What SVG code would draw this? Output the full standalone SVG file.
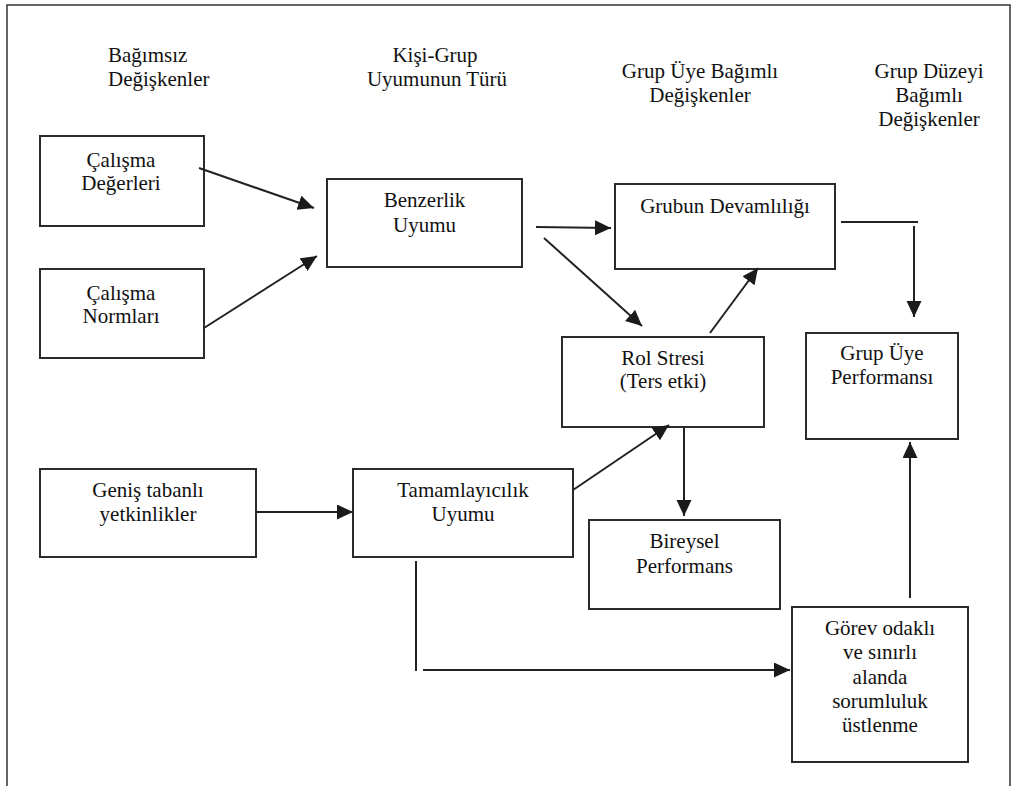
<svg xmlns="http://www.w3.org/2000/svg" width="1013" height="786" viewBox="0 0 1013 786">
<style>
.box{fill:#fff;stroke:#2b2b2b;stroke-width:2}
.t{font-family:"Liberation Serif","Times New Roman",serif;font-size:21px;fill:#111;text-anchor:middle}
.h{font-family:"Liberation Serif","Times New Roman",serif;font-size:21px;fill:#111}
.c{fill:none;stroke:#222;stroke-width:2}
</style>
<defs>
<marker id="ah" markerUnits="userSpaceOnUse" markerWidth="18" markerHeight="16" refX="16" refY="7.5" orient="auto">
<path d="M0,0 L16,7.5 L0,15 z" fill="#1a1a1a"/>
</marker>
</defs>
<rect width="1013" height="786" fill="#fff"/>
<path d="M7,786 V5 H1010 V786" fill="none" stroke="#333" stroke-width="1.5"/>

<g id="headers">
<text class="h" x="108" y="62">Bağımsız</text>
<text class="h" x="108" y="86">Değişkenler</text>
<text class="t" x="435" y="62">Kişi-Grup</text>
<text class="t" x="437" y="86">Uyumunun Türü</text>
<text class="t" x="700" y="78">Grup Üye Bağımlı</text>
<text class="t" x="700" y="102">Değişkenler</text>
<text class="t" x="929" y="78">Grup Düzeyi</text>
<text class="t" x="929" y="102">Bağımlı</text>
<text class="t" x="929" y="126">Değişkenler</text>
</g>

<g id="calisma-degerleri">
<rect class="box" x="40" y="136" width="164" height="90"/>
<text class="t" x="121" y="167">Çalışma</text>
<text class="t" x="121" y="190">Değerleri</text>
</g>
<g id="calisma-normlari">
<rect class="box" x="40" y="269" width="164" height="89"/>
<text class="t" x="121" y="300">Çalışma</text>
<text class="t" x="121" y="323">Normları</text>
</g>
<g id="benzerlik-uyumu">
<rect class="box" x="327" y="179" width="195" height="88"/>
<text class="t" x="424.5" y="207">Benzerlik</text>
<text class="t" x="424.5" y="232">Uyumu</text>
</g>
<g id="grubun-devamliligi">
<rect class="box" x="615" y="184" width="220" height="85"/>
<text class="t" x="725" y="213">Grubun Devamlılığı</text>
</g>
<g id="rol-stresi">
<rect class="box" x="562" y="337" width="202" height="90"/>
<text class="t" x="663" y="365">Rol Stresi</text>
<text class="t" x="663" y="388">(Ters etki)</text>
</g>
<g id="grup-uye-performansi">
<rect class="box" x="806" y="333" width="152" height="106"/>
<text class="t" x="882" y="360">Grup Üye</text>
<text class="t" x="882" y="384">Performansı</text>
</g>
<g id="genis-tabanli">
<rect class="box" x="40" y="469" width="216" height="88"/>
<text class="t" x="148" y="497">Geniş tabanlı</text>
<text class="t" x="148" y="521">yetkinlikler</text>
</g>
<g id="tamamlayicilik-uyumu">
<rect class="box" x="353" y="469" width="220" height="88"/>
<text class="t" x="463" y="497">Tamamlayıcılık</text>
<text class="t" x="463" y="521">Uyumu</text>
</g>
<g id="bireysel-performans">
<rect class="box" x="589" y="520" width="191" height="89"/>
<text class="t" x="684.5" y="548">Bireysel</text>
<text class="t" x="684.5" y="573">Performans</text>
</g>
<g id="gorev-odakli">
<rect class="box" x="792" y="607" width="176" height="155"/>
<text class="t" x="880" y="635">Görev odaklı</text>
<text class="t" x="880" y="659">ve sınırlı</text>
<text class="t" x="880" y="684">alanda</text>
<text class="t" x="880" y="708">sorumluluk</text>
<text class="t" x="880" y="732">üstlenme</text>
</g>

<g id="connectors">
<line class="c" x1="199" y1="168" x2="314" y2="208" marker-end="url(#ah)"/>
<line class="c" x1="204" y1="328" x2="317" y2="256" marker-end="url(#ah)"/>
<line class="c" x1="536" y1="227" x2="611" y2="228" marker-end="url(#ah)"/>
<line class="c" x1="544" y1="238" x2="642" y2="326" marker-end="url(#ah)"/>
<line class="c" x1="710" y1="333" x2="758" y2="268" marker-end="url(#ah)"/>
<line class="c" x1="841" y1="222" x2="918" y2="222"/>
<line class="c" x1="914" y1="226" x2="914" y2="317" marker-end="url(#ah)"/>
<line class="c" x1="573" y1="490" x2="669" y2="425" marker-end="url(#ah)"/>
<line class="c" x1="684" y1="427" x2="684" y2="516" marker-end="url(#ah)"/>
<line class="c" x1="256" y1="512" x2="353" y2="512" marker-end="url(#ah)"/>
<line class="c" x1="416" y1="561" x2="416" y2="671"/>
<line class="c" x1="423" y1="670" x2="790" y2="670" marker-end="url(#ah)"/>
<line class="c" x1="910" y1="598" x2="910" y2="442" marker-end="url(#ah)"/>
</g>
</svg>
